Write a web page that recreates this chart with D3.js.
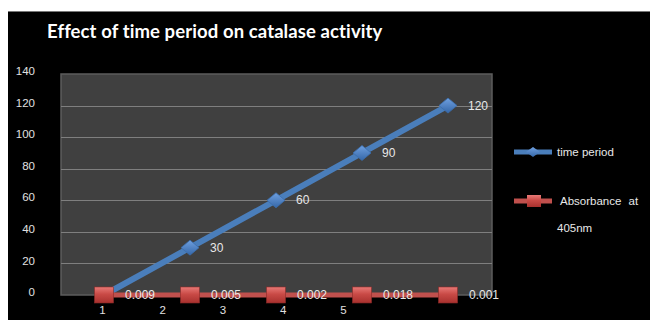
<!DOCTYPE html>
<html><head><meta charset="utf-8">
<script src="https://cdn.jsdelivr.net/npm/d3@7"></script>
<style>
html,body{margin:0;padding:0;background:#fff;}
svg{display:block;}
</style></head>
<body>
<svg id="chart" width="650" height="320"></svg>
<script>
const categories = ["1","2","3","4","5"];
const timePeriod = [0, 30, 60, 90, 120];
const absorbance = [0.009, 0.005, 0.002, 0.018, 0.001];
const yTicks = [0, 20, 40, 60, 80, 100, 120, 140];
const xTickLabels = ["1","2","3","4","5"];
const seriesNames = ["time period", "Absorbance at 405nm"];

const svg = d3.select("#chart");
const W = 650, H = 320;
const plot = {left: 61, right: 492, top: 74, bottom: 295};

// background
svg.append("rect").attr("x",8).attr("y",11).attr("width",W-8).attr("height",H-11).attr("fill","#000");
svg.append("line").attr("x1",8).attr("x2",W).attr("y1",11.5).attr("y2",11.5).attr("stroke","#777").attr("stroke-width",1);

// title
svg.append("text").attr("x",47).attr("y",38).attr("fill","#fff")
  .attr("font-family","Lato, 'Open Sans', sans-serif").attr("font-weight","bold").attr("font-size",18.5)
  .attr("letter-spacing",0.1)
  .text("Effect of time period on catalase activity");

const y = d3.scaleLinear().domain([0,140]).range([plot.bottom, plot.top]);
const x = d3.scalePoint().domain(categories).range([104, 448]);
const xLab = d3.scalePoint().domain(xTickLabels).range([102, 343]);

// plot area
svg.append("rect").attr("x",plot.left).attr("y",plot.top)
  .attr("width",plot.right-plot.left).attr("height",plot.bottom-plot.top)
  .attr("fill","#404040").attr("stroke","#5c5c5c").attr("stroke-width",1.5);

// gridlines
svg.append("g").selectAll("line").data(yTicks.filter(d=>d>0 && d<140)).join("line")
  .attr("x1",plot.left).attr("x2",plot.right)
  .attr("y1",d=>Math.round(y(d))+0.5).attr("y2",d=>Math.round(y(d))+0.5)
  .attr("stroke","#7f7f7f").attr("stroke-width",1.2);

// y axis
const yAxis = svg.append("g").attr("transform","translate(35,-3)")
  .call(d3.axisLeft(y).tickValues(yTicks).tickSize(0).tickPadding(0));
yAxis.select(".domain").remove();
yAxis.selectAll("text").attr("fill","#e0e0e0").attr("font-family","'Liberation Sans', Arial, sans-serif").attr("font-size",11.5);

// x axis labels
const xAxis = svg.append("g").attr("transform","translate(0,306)")
  .call(d3.axisBottom(xLab).tickSize(0).tickPadding(0));
xAxis.select(".domain").remove();
xAxis.selectAll("text").attr("fill","#e0e0e0").attr("font-family","'Liberation Sans', Arial, sans-serif").attr("font-size",11.5).attr("dy","0.71em");

// defs gradients
const defs = svg.append("defs");
const rg = defs.append("linearGradient").attr("id","redg").attr("x1",0).attr("y1",0).attr("x2",0).attr("y2",1);
rg.append("stop").attr("offset","0").attr("stop-color","#e87a77");
rg.append("stop").attr("offset","0.45").attr("stop-color","#c94a46");
rg.append("stop").attr("offset","1").attr("stop-color","#a8312e");
const bg = defs.append("linearGradient").attr("id","blueg").attr("x1",0).attr("y1",0).attr("x2",0).attr("y2",1);
bg.append("stop").attr("offset","0").attr("stop-color","#6fa0e0");
bg.append("stop").attr("offset","1").attr("stop-color","#3567a8");

const line = d3.line();

// blue series line
const bluePts = categories.map((c,i)=>[x(c), y(timePeriod[i])]);
svg.append("path").attr("d",line(bluePts)).attr("fill","none").attr("stroke","#4a7ebb").attr("stroke-width",6);
// red series line
const redPts = categories.map((c,i)=>[x(c), y(absorbance[i])]);
svg.append("path").attr("d",line(redPts)).attr("fill","none").attr("stroke","#c0504d").attr("stroke-width",5);

// blue markers
const diamond = "M0,-7.5 L9,0 L0,7.5 L-9,0 Z";
svg.append("g").selectAll("path").data(bluePts).join("path")
  .attr("transform",d=>`translate(${d[0]},${d[1]})`).attr("d",diamond)
  .attr("fill","url(#blueg)").attr("stroke","#3a6dad").attr("stroke-width",0.8);

// red markers
svg.append("g").selectAll("rect").data(redPts).join("rect")
  .attr("x",d=>d[0]-9.5).attr("y",d=>d[1]-8).attr("width",19).attr("height",16)
  .attr("fill","url(#redg)").attr("stroke","#8c2a28").attr("stroke-width",0.6);

// data labels
const lblFont = "'Liberation Sans', Arial, sans-serif";
svg.append("g").selectAll("text").data(timePeriod.map((v,i)=>({v,i})).filter(d=>d.v>0)).join("text")
  .attr("x",d=>x(categories[d.i])+20).attr("y",d=>y(d.v)).attr("dy","0.35em")
  .attr("fill","#e8e8e8").attr("font-family",lblFont).attr("font-size",12).text(d=>d.v);
svg.append("g").selectAll("text").data(absorbance).join("text")
  .attr("x",(d,i)=>x(categories[i])+21).attr("y",d=>y(d)).attr("dy","0.35em")
  .attr("fill","#e8e8e8").attr("font-family",lblFont).attr("font-size",12).text(d=>d3.format(".3f")(d));

// legend
const lg = svg.append("g");
lg.append("line").attr("x1",514).attr("x2",552).attr("y1",152).attr("y2",152).attr("stroke","#4a7ebb").attr("stroke-width",5);
lg.append("path").attr("transform","translate(533,152)").attr("d","M0,-5 L7,0 L0,5 L-7,0 Z").attr("fill","url(#blueg)");
lg.append("text").attr("x",557).attr("y",152).attr("dy","0.35em").attr("fill","#e8e8e8")
  .attr("font-family",lblFont).attr("font-size",11.5).text(seriesNames[0]);
lg.append("line").attr("x1",514).attr("x2",552).attr("y1",201).attr("y2",201).attr("stroke","#c0504d").attr("stroke-width",5);
lg.append("rect").attr("x",527).attr("y",195).attr("width",14).attr("height",12).attr("fill","url(#redg)");
const words = seriesNames[1].split(" ");
lg.append("text").attr("x",560).attr("y",201).attr("dy","0.35em").attr("fill","#e8e8e8")
  .attr("font-family",lblFont).attr("font-size",11.5).attr("word-spacing",4).text(words.slice(0,2).join(" "));
lg.append("text").attr("x",557).attr("y",228).attr("dy","0.35em").attr("fill","#e8e8e8")
  .attr("font-family",lblFont).attr("font-size",11.5).text(words[2]);
</script>
</body></html>
